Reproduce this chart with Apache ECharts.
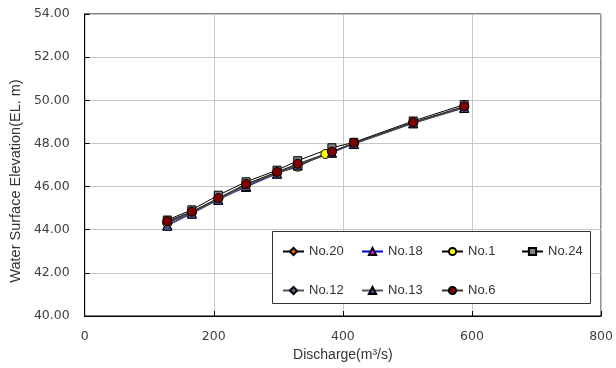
<!DOCTYPE html>
<html>
<head>
<meta charset="utf-8">
<script src="https://cdn.jsdelivr.net/npm/echarts@6/dist/echarts.min.js"></script>
<style>
  html, body { margin: 0; padding: 0; background: #fff; }
  #chart { width: 616px; height: 368px; }
</style>
</head>
<body>
<div id="chart"></div>
<script>
// discharge (m3/s) per section
var qCommon = [128, 166, 207, 250, 298, 330, 383, 417, 509, 588];
var qNo1 = [128, 166, 207, 250, 298, 330, 373, 417, 509, 588];

// water surface elevation (EL. m)
var wseNo20 = [44.36, 44.82, 45.45, 46.10, 46.66, 47.03, 47.60, 48.01, 48.97, 49.70];
var wseNo18 = [44.22, 44.76, 45.40, 45.98, 46.60, 46.98, 47.57, 47.98, 48.94, 49.66];
var wseNo1 = [44.30, 44.80, 45.44, 46.06, 46.62, 46.92, 47.51, 48.00, 48.96, 49.69];
var wseNo24 = [44.45, 44.92, 45.60, 46.22, 46.76, 47.20, 47.80, 48.05, 49.04, 49.80];
var wseNo12 = [44.32, 44.80, 45.43, 46.08, 46.64, 47.02, 47.60, 48.00, 48.96, 49.68];
var wseNo13 = [44.18, 44.74, 45.38, 46.02, 46.60, 46.98, 47.58, 47.97, 48.93, 49.64];
var wseNo6 = [44.40, 44.84, 45.47, 46.12, 46.68, 47.06, 47.62, 48.03, 48.98, 49.72];

var xTicks = [0, 200, 400, 600, 800];
var yTicks = [40, 42, 44, 46, 48, 50, 52, 54];

// legend columns (two rows in the box)
var legendCols = [["No.20", "No.12"], ["No.18", "No.13"], ["No.1", "No.6"], ["No.24"]];
var legendLeft = [282, 361, 441, 521];

function pairs(q, w) {
  return q.map(function (x, i) { return [x, w[i]]; });
}

function mkSeries(name, q, w, symbol, fill, lineColor) {
  return {
    name: name,
    type: "line",
    data: pairs(q, w),
    symbol: symbol,
    symbolSize: symbol === "rect" ? 8 : 9,
    lineStyle: { color: lineColor, width: 1 },
    itemStyle: { color: fill, borderColor: "#000", borderWidth: 1 },
    emphasis: { disabled: true }
  };
}

var chart = echarts.init(document.getElementById("chart"));
var font = "Liberation Sans, Arial, sans-serif";
var tickFont = "DejaVu Sans, sans-serif";

var legends = legendCols.map(function (col, i) {
  return {
    data: col,
    orient: "vertical",
    left: legendLeft[i], top: 245, padding: 0,
    itemWidth: 21, itemHeight: 9, itemGap: 26,
    textStyle: { fontSize: 13, color: "#333", fontFamily: font }
  };
});

var option = {
  animation: false,
  textStyle: { fontFamily: font },
  grid: {
    left: 83, top: 14, width: 521, height: 302,
    show: true, borderColor: "#000", borderWidth: 1
  },
  graphic: [{
    type: "rect",
    z: 3,
    shape: { x: 272.5, y: 231.5, width: 318, height: 72 },
    style: { fill: "#fff", stroke: "#333", lineWidth: 1 }
  }],
  legend: legends,
  xAxis: {
    type: "value",
    min: xTicks[0], max: xTicks[xTicks.length - 1], interval: 200,
    name: "Discharge(m³/s)",
    nameLocation: "middle", nameGap: 32,
    nameTextStyle: { fontSize: 14, color: "#333" },
    axisLine: { lineStyle: { color: "#000", width: 1 } },
    axisTick: { inside: true, length: 5, lineStyle: { color: "#000" } },
    axisLabel: { fontSize: 12.5, color: "#404040", margin: 14, fontFamily: tickFont },
    splitLine: { lineStyle: { color: "#c8c8c8", width: 1 } }
  },
  yAxis: {
    type: "value",
    min: yTicks[0], max: yTicks[yTicks.length - 1], interval: 2,
    name: "Water Surface Elevation(EL. m)",
    nameLocation: "middle", nameGap: 56, nameRotate: 90,
    nameTextStyle: { fontSize: 14.5, color: "#333", padding: [0, 32, 0, 0] },
    axisLine: { show: true, lineStyle: { color: "#000", width: 1 } },
    axisTick: { show: true, inside: true, length: 5, lineStyle: { color: "#000" } },
    axisLabel: {
      fontSize: 12.5, color: "#404040", margin: 15, fontFamily: tickFont,
      formatter: function (v) { return v.toFixed(2); }
    },
    splitLine: { lineStyle: { color: "#c8c8c8", width: 1 } }
  },
  series: [
    mkSeries("No.20", qCommon, wseNo20, "diamond", "#ff6600", "#000"),
    mkSeries("No.18", qCommon, wseNo18, "triangle", "#ff00ff", "#0000cc"),
    mkSeries("No.1", qNo1, wseNo1, "circle", "#ffff00", "#000"),
    mkSeries("No.24", qCommon, wseNo24, "rect", "#808080", "#000"),
    mkSeries("No.12", qCommon, wseNo12, "diamond", "#666699", "#555"),
    mkSeries("No.13", qCommon, wseNo13, "triangle", "#4b4b8c", "#555"),
    mkSeries("No.6", qCommon, wseNo6, "circle", "#800000", "#333")
  ]
};

chart.setOption(option);
</script>
</body>
</html>
